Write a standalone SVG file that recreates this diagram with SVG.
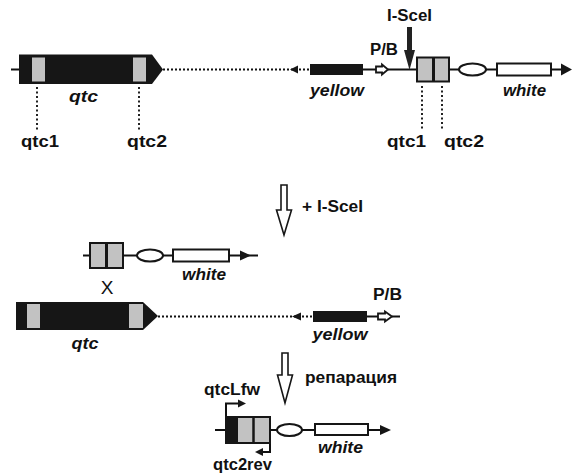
<svg xmlns="http://www.w3.org/2000/svg" width="573" height="474" viewBox="0 0 573 474">
<style>
.t{font-family:"Liberation Sans",Arial,sans-serif;font-weight:bold;font-size:16px;fill:#111;text-anchor:middle}
.i{font-style:italic}
.ln{stroke:#111;stroke-width:2;fill:none}
.dot{stroke:#111;stroke-width:2.2;stroke-dasharray:2 2;fill:none}
.vd{stroke:#222;stroke-width:2;stroke-dasharray:2 2.5;fill:none}
.blk{fill:#161616}
.gr{fill:#c2c2c2}
.box{fill:#c2c2c2;stroke:#161616;stroke-width:2}
.wb{fill:#fff;stroke:#161616;stroke-width:2}
.hol{fill:#fff;stroke:#161616;stroke-width:1.6;stroke-linejoin:miter}
.pb{fill:#fff;stroke:#161616;stroke-width:1.8}
</style>
<rect width="573" height="474" fill="#fff"/>

<!-- Row 1 : genomic qtc -->
<g id="qtc-top">
  <line class="ln" x1="11" y1="69.5" x2="19" y2="69.5"/>
  <polygon class="blk" points="19,54.5 152,54.5 163,69.5 152,84 19,84"/>
  <rect class="gr" x="32" y="57.5" width="13" height="24"/>
  <rect class="gr" x="133" y="57.5" width="13" height="24"/>
  <line class="vd" x1="37" y1="87" x2="37" y2="130"/>
  <line class="vd" x1="139" y1="87" x2="139" y2="130"/>
  <text class="t i" x="83.5" y="102" textLength="29" lengthAdjust="spacingAndGlyphs">qtc</text>
  <text class="t" x="40" y="147" textLength="38" lengthAdjust="spacingAndGlyphs">qtc1</text>
  <text class="t" x="147" y="147" textLength="40" lengthAdjust="spacingAndGlyphs">qtc2</text>
</g>

<g id="yellow-top">
  <line class="dot" x1="163" y1="69.5" x2="310" y2="69.5"/>
  <polygon class="blk" points="290,69.5 298,65.5 298,73.5"/>
  <rect class="blk" x="310" y="64" width="53" height="11"/>
  <line class="ln" x1="363" y1="69.5" x2="376" y2="69.5"/>
  <text class="t i" x="337" y="96" textLength="54" lengthAdjust="spacingAndGlyphs">yellow</text>
</g>

<g id="pb-top">
  <polygon class="pb" points="376,66.5 382,66.5 382,64.5 388,69.5 382,74.5 382,72.5 376,72.5"/>
  <text class="t" x="384" y="55" textLength="28" lengthAdjust="spacingAndGlyphs">P/B</text>
</g>

<g id="isce-site">
  <line class="ln" x1="388" y1="69.5" x2="417" y2="69.5"/>
  <polygon fill="#222" points="407,27 412,27 412,50 415,50 409.5,70 404,50 407,50"/>
  <text class="t" x="409.5" y="21" textLength="45" lengthAdjust="spacingAndGlyphs">I-SceI</text>
</g>

<g id="target-top">
  <rect class="box" x="417" y="57.5" width="32" height="24"/>
  <line stroke="#161616" stroke-width="3" x1="433.5" y1="57.5" x2="433.5" y2="81.5"/>
  <line class="vd" x1="422" y1="86" x2="422" y2="129"/>
  <line class="vd" x1="442" y1="86" x2="442" y2="129"/>
  <text class="t" x="406.5" y="147" textLength="39" lengthAdjust="spacingAndGlyphs">qtc1</text>
  <text class="t" x="464" y="147" textLength="40" lengthAdjust="spacingAndGlyphs">qtc2</text>
</g>

<g id="white-top">
  <line class="ln" x1="449" y1="69.5" x2="459" y2="69.5"/>
  <ellipse class="wb" cx="472.5" cy="69.5" rx="13.5" ry="6"/>
  <line class="ln" x1="486" y1="69.5" x2="497" y2="69.5"/>
  <rect class="wb" x="497" y="63.5" width="54" height="12"/>
  <line class="ln" x1="551" y1="69.5" x2="565" y2="69.5"/>
  <polygon class="blk" points="561,63.5 572,69.5 561,75.5"/>
  <text class="t i" x="524.5" y="96" textLength="43" lengthAdjust="spacingAndGlyphs">white</text>
</g>

<!-- Row 2 : excised fragment -->
<g id="fragment">
  <line class="ln" x1="83" y1="255.5" x2="90" y2="255.5"/>
  <rect class="box" x="90" y="243" width="33" height="25"/>
  <line stroke="#161616" stroke-width="3" x1="106.5" y1="243" x2="106.5" y2="268"/>
  <line class="ln" x1="123" y1="255.5" x2="137" y2="255.5"/>
  <ellipse class="wb" cx="150" cy="255.5" rx="13" ry="6"/>
  <line class="ln" x1="163" y1="255.5" x2="173" y2="255.5"/>
  <rect class="wb" x="173" y="249.5" width="56" height="12"/>
  <line class="ln" x1="229" y1="255.5" x2="258" y2="255.5"/>
  <polygon class="blk" points="240,250.5 251,255.5 240,260.5"/>
  <text class="t i" x="204" y="280" textLength="44" lengthAdjust="spacingAndGlyphs">white</text>
  <text x="107" y="293.5" font-family="Liberation Sans, Arial, sans-serif" font-size="19" fill="#111" text-anchor="middle">X</text>
</g>

<!-- Row 3 : cut genome -->
<g id="qtc-mid">
  <polygon class="blk" points="16,302 143,302 158,316 143,330 16,330"/>
  <rect class="gr" x="27" y="304" width="13" height="24"/>
  <rect class="gr" x="129" y="304" width="14" height="24"/>
  <text class="t i" x="85" y="349" textLength="27" lengthAdjust="spacingAndGlyphs">qtc</text>
</g>

<g id="yellow-mid">
  <line class="dot" x1="158" y1="316.5" x2="313" y2="316.5"/>
  <polygon class="blk" points="292,316.5 301,312.5 301,320.5"/>
  <rect class="blk" x="313" y="311" width="54" height="11"/>
  <line class="ln" x1="367" y1="316.5" x2="378" y2="316.5"/>
  <text class="t i" x="340" y="340" textLength="55" lengthAdjust="spacingAndGlyphs">yellow</text>
</g>

<g id="pb-mid">
  <polygon class="pb" points="378,313.5 385,313.5 385,311.5 392,316.5 385,321.5 385,319.5 378,319.5"/>
  <line class="ln" x1="392" y1="316.5" x2="400" y2="316.5"/>
  <text class="t" x="387.5" y="300" textLength="29" lengthAdjust="spacingAndGlyphs">P/B</text>
</g>

<!-- Row 4 : repaired -->
<g id="repaired">
  <line class="ln" x1="215" y1="430" x2="226" y2="430"/>
  <rect class="box" x="226" y="417" width="44" height="26"/>
  <rect class="blk" x="225" y="416" width="13" height="28"/>
  <line stroke="#161616" stroke-width="2.5" x1="253.5" y1="417" x2="253.5" y2="443"/>
  <line class="ln" x1="270" y1="430" x2="277" y2="430"/>
  <ellipse class="wb" cx="289.5" cy="430" rx="12.5" ry="6"/>
  <line class="ln" x1="302" y1="430" x2="315" y2="430"/>
  <rect class="wb" x="315" y="424" width="53" height="11"/>
  <line class="ln" x1="368" y1="430" x2="385" y2="430"/>
  <polygon class="blk" points="380,425 391,430 380,435"/>
  <text class="t i" x="340.5" y="453" textLength="45" lengthAdjust="spacingAndGlyphs">white</text>
</g>

<g id="connectors">
  <polygon class="hol" points="281,185 287,185 287,210 291.5,210 284,235 276.5,210 281,210"/>
  <text class="t" x="332.5" y="212" textLength="61" lengthAdjust="spacingAndGlyphs">+ I-SceI</text>
  <polygon class="hol" points="282,353 288,353 288,375 292.5,375 285,403 277.5,375 282,375"/>
  <text class="t" x="351" y="383" textLength="92" lengthAdjust="spacingAndGlyphs">репарация</text>
  <path class="ln" d="M226,416 V403.5 H240"/>
  <polygon class="blk" points="238,399.5 246,403.5 238,407.5"/>
  <text class="t" x="232" y="395" textLength="56" lengthAdjust="spacingAndGlyphs">qtcLfw</text>
  <path class="ln" d="M270,444 V452 H261"/>
  <polygon class="blk" points="263,448 255,452 263,456"/>
  <text class="t" x="242.5" y="470" textLength="59" lengthAdjust="spacingAndGlyphs">qtc2rev</text>
</g>
</svg>
